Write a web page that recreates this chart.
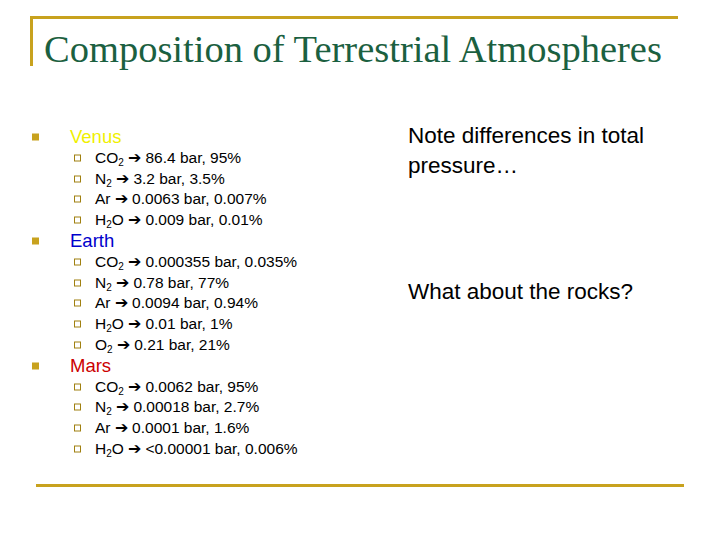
<!DOCTYPE html>
<html lang="en">
<head>
    <meta charset="UTF-8">
    <title>Composition of Terrestrial Atmospheres</title>
    <script src="https://cdn.jsdelivr.net/npm/chart.js"></script>
    <style>
        body { margin: 0; width: 720px; height: 540px; background: #fff; position: relative; overflow: hidden; font-family: "Liberation Sans", Arial, sans-serif; }
        .gold { position: absolute; background: #C8A21E; }
        .t { position: absolute; white-space: nowrap; line-height: 1; transform: translateY(-50%); }
        h1 { position: absolute; left: 44px; top: 49px; margin: 0; transform: translateY(-50%); font-family: "Liberation Serif", "Times New Roman", serif; font-weight: normal; font-size: 38.5px; color: #1B6040; white-space: nowrap; }
        .main { font-size: 18.5px; }
        .sub { font-size: 15.5px; color: #000; }
        .sq { position: absolute; width: 7px; height: 7px; background: #C8A21E; transform: translateY(-50%); }
        .hs { position: absolute; width: 5px; height: 5px; border: 1px solid #A08010; transform: translateY(-50%); }
        sub { font-size: 10px; vertical-align: -3px; line-height: 0; }
        .right { font-size: 22.5px; color: #000; }
    </style>
</head>
<body>
    <div class="gold" style="left:30px;top:16px;width:648px;height:3px"></div>
    <div class="gold" style="left:30px;top:16px;width:3px;height:50px"></div>
    <div class="gold" style="left:36px;top:484px;width:648px;height:3px"></div>
    <h1>Composition of Terrestrial Atmospheres</h1>
    <div id="list"></div>
    <div class="t right" style="left:408px;top:136px">Note differences in total</div>
    <div class="t right" style="left:408px;top:166px">pressure…</div>
    <div class="t right" style="left:408px;top:292px">What about the rocks?</div>
    <script>
        const planets = ['Venus', 'Earth', 'Mars'];
        const planetColors = ['#F0F000', '#0000CC', '#CC0000'];
        const A = '&nbsp;&#x2794;&nbsp;';
        const rows = [
            [`CO<sub>2</sub>${A}86.4 bar, 95%`, `N<sub>2</sub>${A}3.2 bar, 3.5%`, `Ar${A}0.0063 bar, 0.007%`, `H<sub>2</sub>O${A}0.009 bar, 0.01%`],
            [`CO<sub>2</sub>${A}0.000355 bar, 0.035%`, `N<sub>2</sub>${A}0.78 bar, 77%`, `Ar${A}0.0094 bar, 0.94%`, `H<sub>2</sub>O${A}0.01 bar, 1%`, `O<sub>2</sub>${A}0.21 bar, 21%`],
            [`CO<sub>2</sub>${A}0.0062 bar, 95%`, `N<sub>2</sub>${A}0.00018 bar, 2.7%`, `Ar${A}0.0001 bar, 1.6%`, `H<sub>2</sub>O${A}&lt;0.00001 bar, 0.006%`]
        ];
        const list = document.getElementById('list');
        let y = 137;
        const step = 20.8;
        planets.forEach((p, i) => {
            list.insertAdjacentHTML('beforeend',
                `<div class="sq" style="left:32px;top:${y}px"></div>` +
                `<div class="t main" style="left:70px;top:${y}px;color:${planetColors[i]}">${p}</div>`);
            y += step;
            rows[i].forEach(r => {
                list.insertAdjacentHTML('beforeend',
                    `<div class="hs" style="left:74px;top:${y}px"></div>` +
                    `<div class="t sub" style="left:95px;top:${y}px">${r}</div>`);
                y += step;
            });
        });
    </script>
</body>
</html>
